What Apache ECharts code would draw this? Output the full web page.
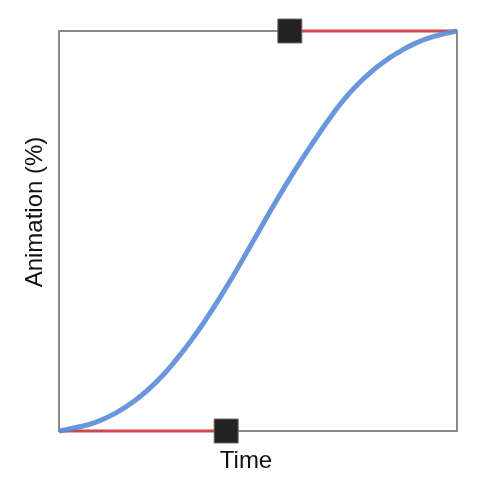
<!DOCTYPE html>
<html>
<head>
<meta charset="utf-8">
<script src="https://cdn.jsdelivr.net/npm/echarts@6/dist/echarts.min.js"></script>
<style>
  html, body { margin: 0; padding: 0; background: #fff; }
  #chart { width: 482px; height: 478px; }
</style>
</head>
<body>
<div id="chart"></div>
<script>
  // curve, time (%) vs animation (%)
  var timePct = [0, 4.0, 9.0, 14.1, 19.1, 24.1, 29.1, 34.2, 38.8, 44.0, 48.8, 53.8, 59.3, 64.7, 68.9, 73.1, 77.3, 81.5, 85.7, 89.9, 94.0, 100];
  var animPct = [0, 0.8, 2.1, 4.4, 7.6, 11.9, 17.4, 24.0, 30.8, 39.2, 47.5, 56.2, 65.2, 73.4, 79.4, 84.6, 88.8, 92.2, 94.9, 97.1, 98.6, 100];
  // bezier handles: start -> handle 1, handle 2 -> end
  var handleStart = [[0, 0], [42, 0]];
  var handleEnd = [[58, 100], [100, 100]];
  var handlePoints = [[42, 0], [58, 100]];

  var curve = timePct.map(function (t, i) { return [t, animPct[i]]; });

  var myChart = echarts.init(document.getElementById('chart'));
  var option = {
    animation: false,
    grid: {
      left: 59, right: 25, top: 31, bottom: 47,
      show: true,
      borderColor: '#8a8a8a',
      borderWidth: 2,
      backgroundColor: '#fff'
    },
    xAxis: {
      type: 'value', min: 0, max: 100,
      axisLine: { show: false }, axisTick: { show: false },
      axisLabel: { show: false }, splitLine: { show: false }
    },
    yAxis: {
      type: 'value', min: 0, max: 100,
      axisLine: { show: false }, axisTick: { show: false },
      axisLabel: { show: false }, splitLine: { show: false }
    },
    graphic: [
      {
        type: 'text', x: 246, y: 461,
        style: {
          text: 'Time', fill: '#111',
          font: '24px "Liberation Sans", Arial, sans-serif',
          align: 'center', verticalAlign: 'middle'
        }
      },
      {
        type: 'text', x: 35, y: 212, rotation: Math.PI / 2,
        style: {
          text: 'Animation (%)', fill: '#111',
          font: '24px "Liberation Sans", Arial, sans-serif',
          align: 'center', verticalAlign: 'middle'
        }
      }
    ],
    series: [
      {
        type: 'line', data: handleStart, symbol: 'none', clip: false, z: 2,
        lineStyle: { color: '#d0464a', width: 3 }
      },
      {
        type: 'line', data: handleEnd, symbol: 'none', clip: false, z: 2,
        lineStyle: { color: '#d0464a', width: 3 }
      },
      {
        type: 'line', data: curve, symbol: 'none', smooth: true, clip: false, z: 3,
        lineStyle: { color: '#5b8ed8', width: 5, opacity: 0.92 }
      },
      {
        type: 'scatter', data: handlePoints, symbol: 'rect', symbolSize: 24, clip: false, z: 5,
        itemStyle: { color: '#222', opacity: 1, borderColor: '#6a6a6a', borderWidth: 1 }
      }
    ]
  };
  myChart.setOption(option);
</script>
</body>
</html>
